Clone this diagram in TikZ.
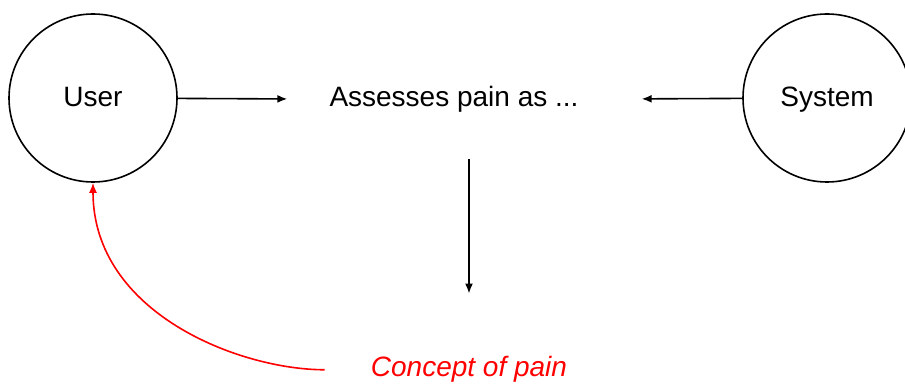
\documentclass[tikz,border=0pt]{standalone}
\usepackage{fontspec}
\setmainfont{Liberation Sans}
\usetikzlibrary{arrows.meta}
\tikzset{
  actor/.style={draw, circle, line width=1.6pt, minimum size=168pt, inner sep=0pt,
    text height=20pt, text depth=2pt, font=\fontsize{28}{34}\selectfont},
  label/.style={inner sep=0pt, anchor=base, font=\fontsize{28}{34}\selectfont},
  flow/.style={-{Latex[length=10pt,width=8pt]}, line width=1.6pt},
}
\begin{document}
\begin{tikzpicture}[x=1pt,y=1pt]
  \useasboundingbox (0,0) rectangle (905,385);
  \node[actor] (user) at (93,287) {User};
  \node[actor] (system) at (827,287) {System};
  \node[label] (assess) at (454,278) {Assesses pain as ...};
  \node[label, text=red, font=\fontsize{28}{34}\selectfont\itshape] (concept) at (469,8) {Concept of pain};
  \draw[flow, shorten >=42pt] (user) -- (assess);
  \draw[flow, shorten >=63pt] (system) -- (assess);
  \draw[flow, shorten <=46pt, shorten >=63pt] (assess.south -| concept.north) -- (concept.north);
  \draw[flow, red, shorten <=46pt] (concept.west) to[out=180, in=-90] (user.south);
\end{tikzpicture}
\end{document}
